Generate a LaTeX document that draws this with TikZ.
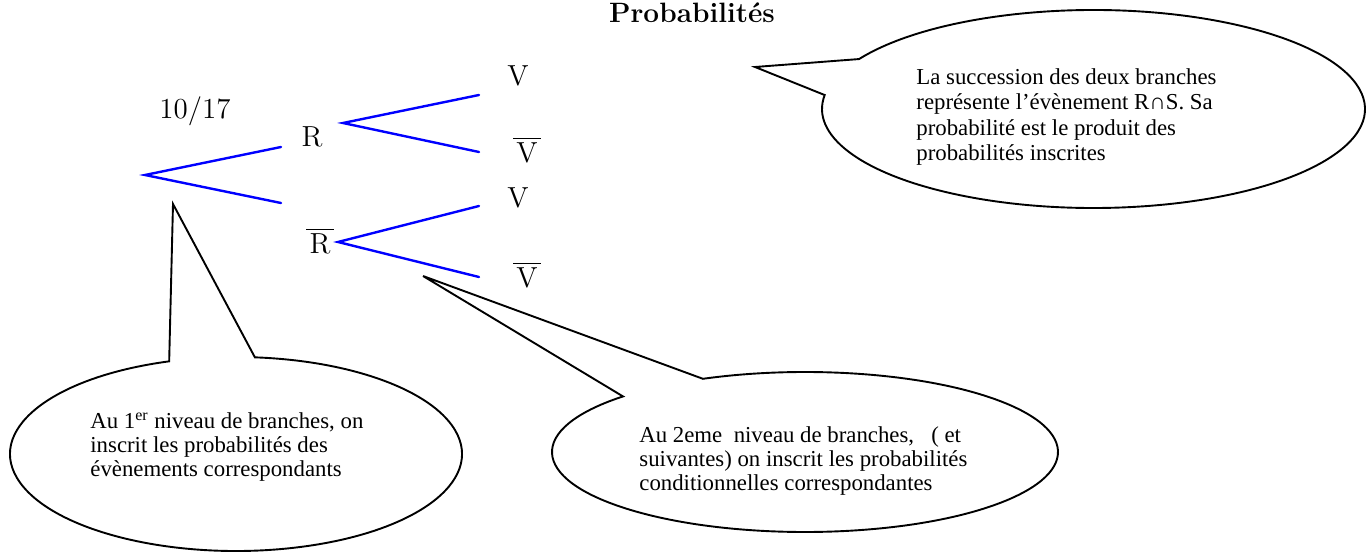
\documentclass[tikz,border=0pt]{standalone}
\usepackage{fontspec}
\newfontfamily\tnr{Liberation Serif}
\usetikzlibrary{calc}
\newcommand{\barred}[1]{\overline{\mkern2mu\rule{0pt}{0.76em}\mathrm{#1}\mkern2mu}}
\begin{document}
\begin{tikzpicture}[x=0.5pt,y=0.5pt,
  branch/.style={blue, line width=1.2pt, line cap=round},
  bubble/.style={draw=black, line width=0.95pt, line join=miter},
  lbl/.style={font=\fontsize{14.5}{17}\selectfont, inner sep=0, anchor=base},
  btext/.style={font=\tnr\fontsize{11.4}{12}\selectfont, align=left, anchor=north west, inner sep=0}]
\useasboundingbox (0,0) rectangle (1366,552);

% title
\node[font=\fontsize{14}{17}\selectfont\bfseries, anchor=base, inner sep=0] (title) at (692,529) {Probabilités};

% tree points
\coordinate (root) at (145,377);
\coordinate (a1) at (281,405);
\coordinate (a2) at (281,349);
\coordinate (b1) at (343,429);
\coordinate (b2) at (338,310);
\coordinate (c1) at (479,457);
\coordinate (c2) at (479,400);
\coordinate (c3) at (479,346);
\coordinate (c4) at (479,275);

\draw[branch] (a1) -- (root) -- (a2);
\draw[branch] (c1) -- (b1) -- (c2);
\draw[branch] (c3) -- (b2) -- (c4);

% labels
\node[lbl] (p) at (195,433) {10/17};
\node[lbl] (R) at (312,405) {R};
\node[lbl] (Rb) at (320,298) {$\barred{R}$};
\node[lbl] (V1) at (518,466) {V};
\node[lbl] (Vb1) at (527,389) {$\barred{V}$};
\node[lbl] (V2) at (518,344) {V};
\node[lbl] (Vb2) at (527,264) {$\barred{V}$};

% callout top right
\coordinate (trc) at (1093.5,443);
\coordinate (trtip) at (755,485);
\draw[bubble] ($(trc)+(149.7:271.5 and 99)$)
  arc[start angle=149.7, end angle=-188.1, x radius=271.5, y radius=99]
  -- (trtip) -- cycle;
\node[btext, font=\tnr\fontsize{11.4}{12.7}\selectfont] (t1) at (916,484)
  {La succession des deux branches\\représente l’évènement R∩S. Sa\\probabilité est le produit des\\probabilités inscrites};

% callout bottom left
\coordinate (blc) at (236,98);
\coordinate (bltip) at (173,348);
\draw[bubble] ($(blc)+(107.2:226 and 97)$)
  arc[start angle=107.2, end angle=445.2, x radius=226, y radius=97]
  -- (bltip) -- cycle;
\node[btext] (t2) at (90,140)
  {Au 1\textsuperscript{er} niveau de branches, on\\inscrit les probabilités des\\évènements correspondants};

% callout bottom right
\coordinate (brc) at (805,100);
\coordinate (brtip) at (423,276);
\draw[bubble] ($(brc)+(136:253 and 80)$)
  arc[start angle=136, end angle=473.8, x radius=253, y radius=80]
  -- (brtip) -- cycle;
\node[btext] (t3) at (639,126)
  {Au 2eme\ \ niveau de branches,\ \ \ ( et\\suivantes) on inscrit les probabilités\\conditionnelles correspondantes};
\end{tikzpicture}
\end{document}
